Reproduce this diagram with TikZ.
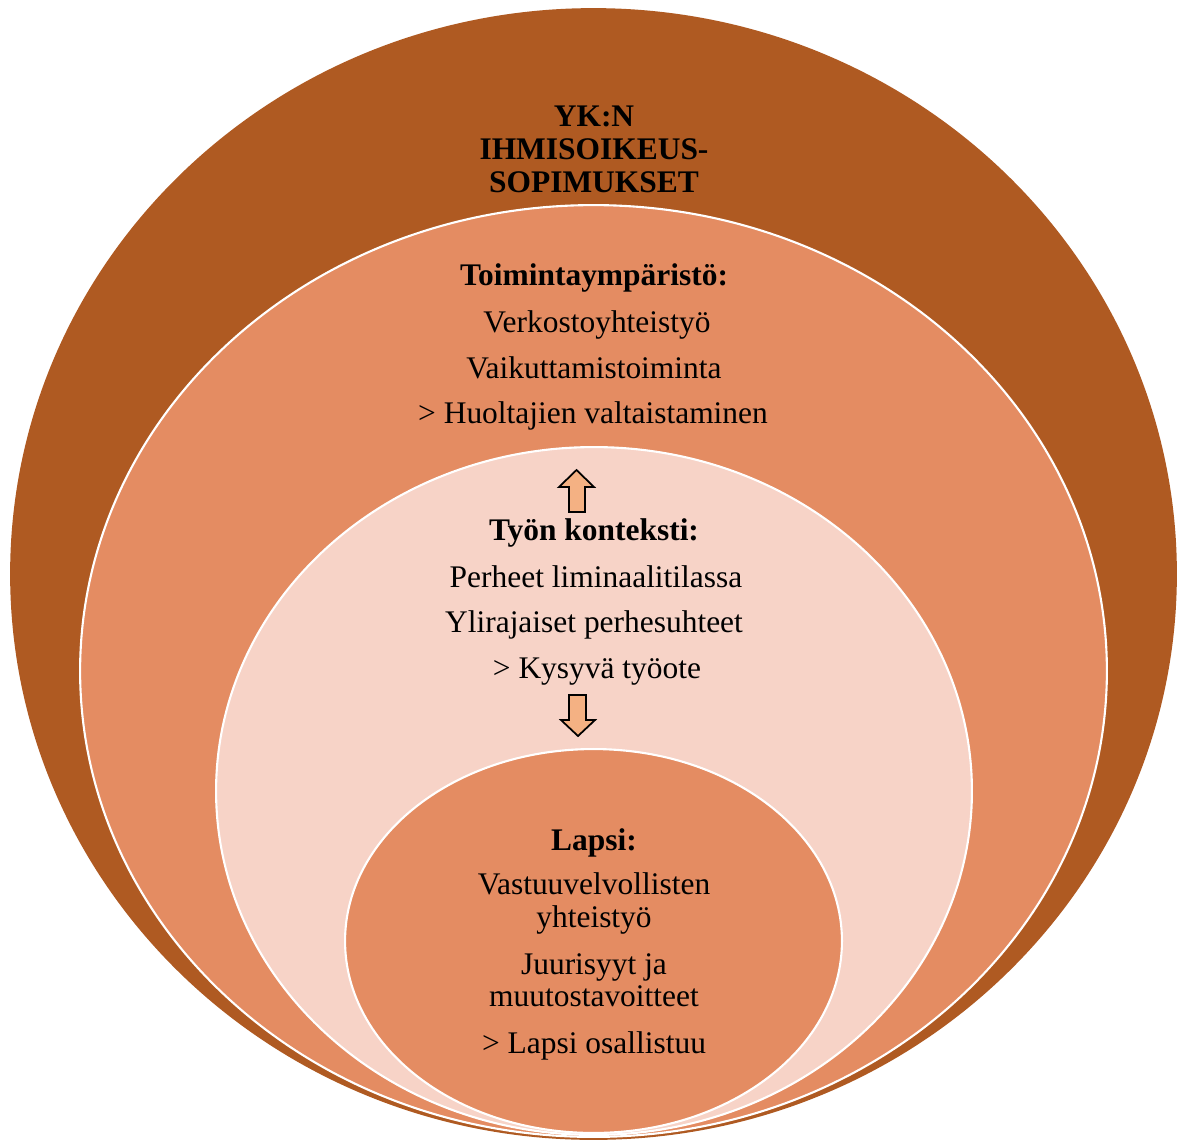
\documentclass[tikz,border=0pt]{standalone}
\usepackage{fontspec}
\setmainfont{Liberation Serif}
\usetikzlibrary{shapes.geometric}
\definecolor{ykbrown}{HTML}{AF5A22}
\definecolor{envorange}{HTML}{E48C62}
\definecolor{ctxpink}{HTML}{F7D3C7}
\definecolor{arrowfill}{HTML}{F4B183}

\begin{document}
\begin{tikzpicture}[x=0.02cm, y=-0.02cm,
  layer/.style={ellipse, inner sep=0pt, draw=white, line width=1.2pt},
  txt/.style={anchor=base, inner sep=0pt, font=\fontsize{17.9}{19}\selectfont},
  hdr/.style={txt, font=\fontsize{17.9}{19}\selectfont\bfseries},
  blockarrow/.style={draw=black, fill=arrowfill, line width=1pt, line join=miter}]
  \useasboundingbox (0,0) rectangle (1179,1140);

  \node[layer, draw=none, fill=ykbrown, minimum width=23.34cm, minimum height=22.64cm] (YK) at (593.5,574) {};
  \node[layer, fill=envorange, minimum width=20.54cm, minimum height=18.64cm] (E) at (593.5,671) {};
  \node[layer, fill=ctxpink, minimum width=15.12cm, minimum height=13.76cm] (K) at (594,791) {};
  \node[layer, fill=envorange, minimum width=9.94cm, minimum height=7.68cm] (L) at (593.5,941) {};

  \node[hdr] (YK1) at (594,126) {YK:N};
  \node[hdr] (YK2) at (594,159) {IHMISOIKEUS-};
  \node[hdr] (YK3) at (594,192) {SOPIMUKSET};

  \node[hdr] (Eh) at (594,285) {Toimintaympäristö:};
  \node[txt] (E1) at (597,332) {Verkostoyhteistyö};
  \node[txt] (E2) at (594,378) {Vaikuttamistoiminta};
  \node[txt] (E3) at (593,423) {> Huoltajien valtaistaminen};

  \node[hdr] (Kh) at (594,540) {Työn konteksti:};
  \node[txt] (K1) at (596,587) {Perheet liminaalitilassa};
  \node[txt] (K2) at (594,632) {Ylirajaiset perhesuhteet};
  \node[txt] (K3) at (597,678) {> Kysyvä työote};

  \node[hdr] (Lh) at (594,850) {Lapsi:};
  \node[txt] (L1) at (594,894) {Vastuuvelvollisten};
  \node[txt] (L2) at (594,927) {yhteistyö};
  \node[txt] (L3) at (594,974) {Juurisyyt ja};
  \node[txt] (L4) at (594,1006) {muutostavoitteet};
  \node[txt] (L5) at (594,1053) {> Lapsi osallistuu};

  \draw[blockarrow] (569,512) -- (569,487) -- (559,487) -- (576.5,470) -- (594,487) -- (585,487) -- (585,512) -- cycle;
  \draw[blockarrow] (569,695) -- (569,720) -- (561,720) -- (578,736) -- (595,720) -- (586,720) -- (586,695) -- cycle;
\end{tikzpicture}
\end{document}
